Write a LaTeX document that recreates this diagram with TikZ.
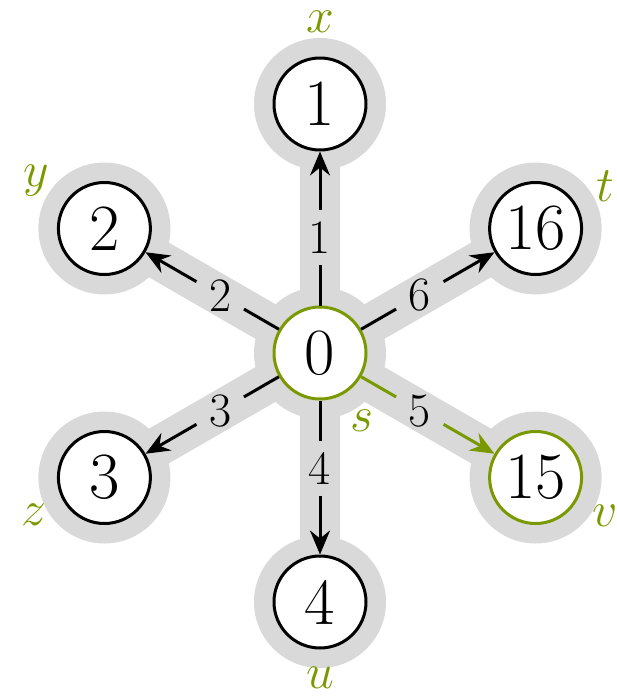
\documentclass[tikz,border=0pt]{standalone}
\usetikzlibrary{arrows.meta}
\definecolor{grn}{RGB}{122,153,0}
\definecolor{halo}{gray}{0.85}
\begin{document}
\begin{tikzpicture}[x=0.5pt,y=-0.5pt,
  vtx/.style={circle,draw,line width=1.5pt,fill=white,minimum size=46pt,inner sep=0pt,font=\fontsize{33}{40}\selectfont},
  halobar/.style={draw=halo,line width=20pt},
  halodisc/.style={fill=halo},
  edge/.style={draw,line width=1.5pt},
  arr/.style={edge,-{Stealth[length=12pt,width=10pt,inset=4pt]}},
  elab/.style={circle,inner sep=0pt,minimum size=27pt,pos=0.44,font=\fontsize{24}{28}\selectfont},
  glab/.style={text=grn,inner sep=0pt,font=\fontsize{24}{28}\selectfont}]
\useasboundingbox (0,0) rectangle (616,696);
\coordinate (c0) at (320,353);
\coordinate (c1) at (320,104);
\coordinate (c2) at (104.4,228.5);
\coordinate (c16) at (535.6,228.5);
\coordinate (c3) at (104.4,477.5);
\coordinate (c15) at (535.6,477.5);
\coordinate (c4) at (320,602);
% halo
\foreach \t in {c1,c2,c16,c3,c15,c4} \draw[halobar] (c0) -- (\t);
\foreach \t in {c0,c1,c2,c16,c3,c15,c4} \fill[halodisc] (\t) circle (33pt);
% nodes
\node[vtx,draw=grn] (n0) at (c0) {0};
\node[vtx] (n1) at (c1) {1};
\node[vtx] (n2) at (c2) {2};
\node[vtx] (n16) at (c16) {16};
\node[vtx] (n3) at (c3) {3};
\node[vtx,draw=grn] (n15) at (c15) {15};
\node[vtx] (n4) at (c4) {4};
% edge labels
\path (n0) -- node[elab] (l1) {1} (n1);
\path (n0) -- node[elab] (l2) {2} (n2);
\path (n0) -- node[elab] (l6) {6} (n16);
\path (n0) -- node[elab] (l3) {3} (n3);
\path (n0) -- node[elab] (l5) {5} (n15);
\path (n0) -- node[elab] (l4) {4} (n4);
% edges
\draw[edge] (n0) -- (l1); \draw[arr] (l1) -- (n1);
\draw[edge] (n0) -- (l2); \draw[arr] (l2) -- (n2);
\draw[edge] (n0) -- (l6); \draw[arr] (l6) -- (n16);
\draw[edge] (n0) -- (l3); \draw[arr] (l3) -- (n3);
\draw[edge,draw=grn] (n0) -- (l5); \draw[arr,draw=grn] (l5) -- (n15);
\draw[edge] (n0) -- (l4); \draw[arr] (l4) -- (n4);
% green labels
\node[glab] (gx) at (320,22) {$x$};
\node[glab] (gy) at (36,181) {$y$};
\node[glab] (gt) at (605,186) {$t$};
\node[glab] (gz) at (34,515) {$z$};
\node[glab] (gv) at (605,516) {$v$};
\node[glab] (gu) at (320,678) {$u$};
\node[glab] (gs) at (362,421) {$s$};
\end{tikzpicture}
\end{document}
